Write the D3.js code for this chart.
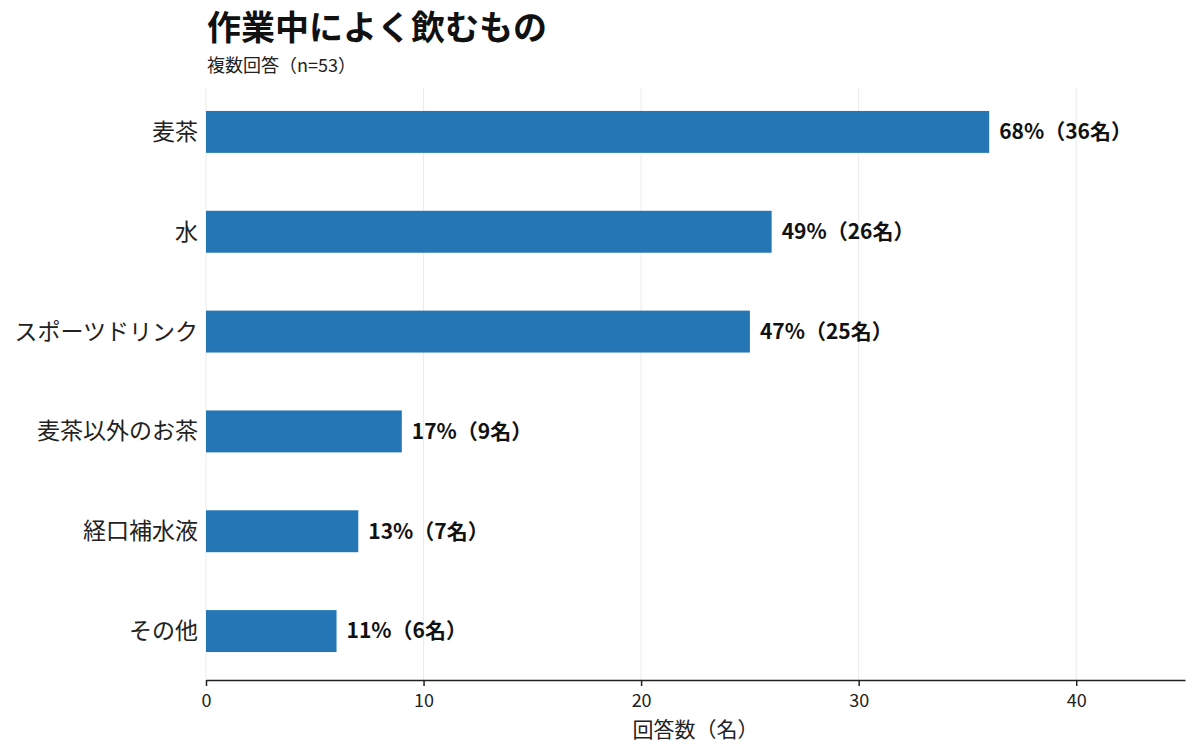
<!DOCTYPE html>
<html>
<head>
<meta charset="utf-8">
<script src="https://cdn.jsdelivr.net/npm/d3@7"></script>
<style>
  body { margin: 0; background: #fff; }
  svg { font-family: "Noto Sans CJK JP", "Noto Sans", sans-serif; }
</style>
</head>
<body>
<div id="chart"></div>
<script>
const categories = ["麦茶", "水", "スポーツドリンク", "麦茶以外のお茶", "経口補水液", "その他"];
const counts = [36, 26, 25, 9, 7, 6];
const percents = [68, 49, 47, 17, 13, 11];
const xTicks = [0, 10, 20, 30, 40];

const width = 1200, height = 756;
const margin = { top: 82, right: 15, bottom: 75, left: 206 };

const svg = d3.select("#chart").append("svg")
  .attr("width", width)
  .attr("height", height);

const x = d3.scaleLinear()
  .domain([0, 45])
  .range([margin.left, width - margin.right]);

const y = d3.scaleBand()
  .domain(categories)
  .range([82, 681])
  .paddingInner(0.58)
  .paddingOuter(0.29);

// gridlines
svg.append("g")
  .selectAll("line")
  .data(xTicks)
  .enter()
  .append("line")
  .attr("x1", d => x(d))
  .attr("x2", d => x(d))
  .attr("y1", 88)
  .attr("y2", 680)
  .attr("stroke", "#ebebeb")
  .attr("stroke-width", 1);

// bars
svg.append("g")
  .selectAll("rect")
  .data(categories)
  .enter()
  .append("rect")
  .attr("x", x(0))
  .attr("y", d => y(d))
  .attr("width", (d, i) => x(counts[i]) - x(0))
  .attr("height", y.bandwidth())
  .attr("fill", "#2576b5");

// value labels
svg.append("g")
  .selectAll("text")
  .data(categories)
  .enter()
  .append("text")
  .attr("x", (d, i) => x(counts[i]) + 10)
  .attr("y", d => y(d) + y.bandwidth() / 2)
  .attr("dy", "0.35em")
  .attr("font-size", 21)
  .attr("font-weight", "bold")
  .attr("fill", "#111")
  .text((d, i) => percents[i] + "%（" + counts[i] + "名）");

// category labels
svg.append("g")
  .selectAll("text")
  .data(categories)
  .enter()
  .append("text")
  .attr("x", 198)
  .attr("y", d => y(d) + y.bandwidth() / 2)
  .attr("dy", "0.35em")
  .attr("text-anchor", "end")
  .attr("font-size", 23)
  .attr("fill", "#222")
  .text(d => d);

// x axis
const xAxis = d3.axisBottom(x).tickValues(xTicks).tickSizeInner(6).tickSizeOuter(0).tickPadding(8);
const gx = svg.append("g")
  .attr("transform", "translate(0,680)")
  .call(xAxis);
gx.select(".domain").attr("stroke", "#222").attr("stroke-width", 1.5);
gx.selectAll(".tick line").attr("stroke", "#222").attr("stroke-width", 1.5);
gx.selectAll(".tick text")
  .attr("font-size", 18)
  .attr("fill", "#222")
  .attr("font-family", "\"Noto Sans CJK JP\", sans-serif");

svg.append("text")
  .attr("x", (x(0) + x(45)) / 2)
  .attr("y", 737)
  .attr("text-anchor", "middle")
  .attr("font-size", 21)
  .attr("fill", "#222")
  .text("回答数（名）");

// title
svg.append("text")
  .attr("x", 207)
  .attr("y", 40)
  .attr("font-size", 34)
  .attr("font-weight", "bold")
  .attr("fill", "#111")
  .text("作業中によく飲むもの");

svg.append("text")
  .attr("x", 207)
  .attr("y", 72)
  .attr("font-size", 18)
  .attr("fill", "#222")
  .text("複数回答（n=53）");
</script>
</body>
</html>
